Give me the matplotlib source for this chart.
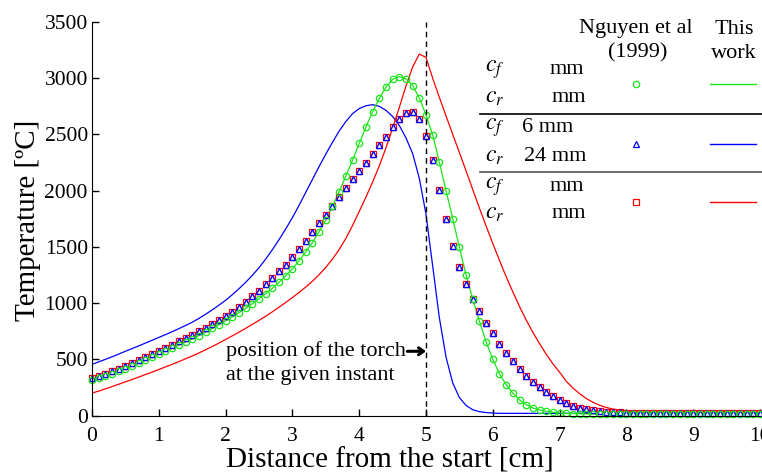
import numpy as np
import matplotlib
matplotlib.use("Agg")
import matplotlib.pyplot as plt
from matplotlib.lines import Line2D

plt.rcParams["font.family"] = ["Liberation Serif", "DejaVu Serif"]
plt.rcParams["mathtext.fontset"] = "stix"

# distance along the weld line [cm], one sample every 1 mm
dist_cm = np.round(np.arange(101) * 0.1, 1)

# case 1: Nguyen et al circles and this work (green) coincide
green_T = [
    318, 333, 352, 373, 395, 418, 442, 467, 492, 520,
    548, 574, 600, 627, 655, 684, 712, 743, 775, 808,
    843, 878, 915, 953, 995, 1040, 1085, 1133, 1185, 1242,
    1305, 1378, 1455, 1538, 1635, 1740, 1860, 1990, 2130, 2270,
    2420, 2565, 2700, 2820, 2920, 2990, 3015, 2995, 2935, 2825,
    2675, 2495, 2255, 2000, 1751, 1496, 1250, 1035, 840, 655,
    500, 372, 275, 200, 140, 98, 68, 50, 38, 29,
    24, 20, 18, 16, 15, 15, 15, 15, 15, 15,
    15, 15, 15, 15, 15, 15, 15, 15, 15, 15,
    15, 15, 15, 15, 15, 15, 15, 15, 15, 15,
    15,
]

# cases 2 and 3: Nguyen et al triangles / squares (same values)
nguyen_T = [
    335, 350, 370, 393, 417, 440, 465, 492, 520, 548,
    576, 604, 632, 660, 688, 718, 750, 782, 816, 850,
    885, 924, 965, 1012, 1062, 1112, 1168, 1224, 1283, 1343,
    1410, 1482, 1556, 1631, 1709, 1787, 1865, 1946, 2024, 2102,
    2174, 2250, 2330, 2405, 2480, 2564, 2636, 2690, 2702, 2639,
    2489, 2270, 2006, 1745, 1511, 1319, 1166, 1040, 926, 824,
    731, 641, 560, 485, 416, 356, 299, 251, 212, 176,
    140, 116, 89, 71, 56, 47, 38, 33, 30, 28,
    26, 25, 25, 25, 25, 25, 25, 25, 25, 25,
    25, 25, 25, 25, 25, 25, 25, 25, 25, 25,
    25,
]

# this work, case 2 (blue)
blue_T = [
    455, 478, 500, 523, 547, 572, 596, 620, 645, 670,
    695, 720, 746, 773, 801, 830, 864, 901, 940, 982,
    1025, 1075, 1128, 1185, 1247, 1315, 1392, 1475, 1565, 1660,
    1760, 1870, 1985, 2100, 2215, 2325, 2430, 2530, 2615, 2685,
    2730, 2755, 2765, 2750, 2715, 2660, 2580, 2470, 2330, 2110,
    1790, 1330, 870, 520, 290, 160, 90, 52, 35, 27,
    23, 20, 20, 20, 20, 20, 20, 20, 20, 20,
    20, 20, 20, 20, 20, 20, 20, 20, 20, 20,
    20, 20, 20, 20, 20, 20, 20, 20, 20, 20,
    20, 20, 20, 20, 20, 20, 20, 20, 20, 20,
    20,
]

# this work, case 3 (red)
red_T = [
    200, 218, 238, 258, 279, 300, 321, 343, 365, 387,
    410, 433, 456, 480, 505, 530, 557, 585, 614, 645,
    677, 709, 742, 776, 811, 847, 884, 923, 964, 1006,
    1050, 1095, 1143, 1195, 1253, 1318, 1392, 1477, 1575, 1690,
    1815, 1942, 2075, 2220, 2380, 2555, 2740, 2930, 3100, 3215,
    3185, 3000, 2830, 2665, 2500, 2340, 2175, 2010, 1845, 1685,
    1530, 1380, 1235, 1100, 970, 850, 740, 640, 545, 460,
    385, 305, 245, 195, 152, 118, 92, 72, 58, 48,
    40, 34, 30, 27, 25, 23, 22, 21, 20, 20,
    20, 20, 20, 20, 20, 20, 20, 20, 20, 20,
    20,
]

torch_pos = 5.0

GREEN = "#19e619"
BLUE = "#0000ff"
RED = "#ff0000"

W, H = 762, 476
fig = plt.figure(figsize=(W / 100, H / 100), dpi=100)
ax = fig.add_axes([92 / W, 1 - 415.6 / H, 668 / W, 393.6 / H])

ax.plot(dist_cm, blue_T, color=BLUE, lw=0.9)
ax.plot(dist_cm, red_T, color=RED, lw=0.9)
ax.plot(dist_cm, green_T, color=GREEN, lw=0.9)
ax.plot(dist_cm, nguyen_T, ls="none", marker="s", ms=4.2, mfc="none",
        mec=RED, mew=0.9, clip_on=False)
ax.plot(dist_cm, nguyen_T, ls="none", marker="^", ms=4.6, mfc="white",
        mec=BLUE, mew=1.0, clip_on=False)
ax.plot(dist_cm, green_T, ls="none", marker="o", ms=4.6, mfc="none",
        mec=GREEN, mew=0.9, clip_on=False)

ax.axvline(torch_pos, color="k", ls=(0, (4, 3)), lw=1)

ax.text(2.0, 572, "position of the torch", fontsize=16, va="center", ha="left")
ax.text(2.0, 356, "at the given instant", fontsize=16, va="center", ha="left")
ax.annotate("", xy=(torch_pos, 572), xytext=(4.72, 572),
            arrowprops=dict(arrowstyle="->,head_length=0.35,head_width=0.25",
                            lw=2.2, color="k", shrinkA=0, shrinkB=0))

ax.set_xlim(0, 10)
ax.set_ylim(0, 3500)
ax.set_xticks(range(0, 11))
ax.set_yticks(range(0, 3501, 500))
ax.tick_params(direction="in", length=5, width=1, labelsize=15.5)
ax.tick_params(axis="y", pad=3)
ax.tick_params(axis="x", pad=8)
for s in ["top", "right"]:
    ax.spines[s].set_visible(False)

ax.set_xlabel("Distance from the start [cm]", fontsize=21)
ax.set_ylabel("Temperature [ºC]", fontsize=21)
ax.xaxis.set_label_coords(0.446, -0.082)
ax.yaxis.set_label_coords(-0.076, 0.497)


# legend table at the upper right (figure pixel positions)
def fp(px, py):
    return px / W, 1 - py / H


fs = 16
for txt, (px, py) in [("Nguyen et al", (636, 29)), ("(1999)", (638, 53)),
                      ("This", (734, 29)), ("work", (734, 53))]:
    fig.text(*fp(px, py), txt, fontsize=fs, ha="center", va="center")

rows = [
    (70, 98, "mm", "mm", 567, 569),
    (128, 157, "6 mm", "24 mm", 548, 555),
    (187, 213, "mm", "mm", 567, 569),
]
for yf, yr, tf, tr, xf, xr in rows:
    fig.text(*fp(495, yf), r"$c_f$", fontsize=fs + 1, ha="center", va="center")
    fig.text(*fp(495, yr), r"$c_r$", fontsize=fs + 1, ha="center", va="center")
    fig.text(*fp(xf, yf), tf, fontsize=fs, ha="center", va="center")
    fig.text(*fp(xr, yr), tr, fontsize=fs, ha="center", va="center")

for py, col in [(114.3, "k"), (172.3, "#555555")]:
    x0, y0 = fp(480, py)
    x1, _ = fp(762, py)
    fig.add_artist(Line2D([x0, x1], [y0, y0], color=col, lw=1.2))

leg = [(84.3, "o", GREEN, 4.6), (143.5, "^", BLUE, 4.6), (201.7, "s", RED, 4.2)]
for py, mk, col, ms in leg:
    mx, my = fp(636, py)
    fig.add_artist(Line2D([mx], [my], ls="none", marker=mk, ms=ms, mfc="none",
                          mec=col, mew=0.9))
    x0, y0 = fp(710, py)
    x1, _ = fp(756, py)
    fig.add_artist(Line2D([x0, x1], [y0, y0], color=col, lw=1.0))

fig.savefig("out.png", dpi=100)
